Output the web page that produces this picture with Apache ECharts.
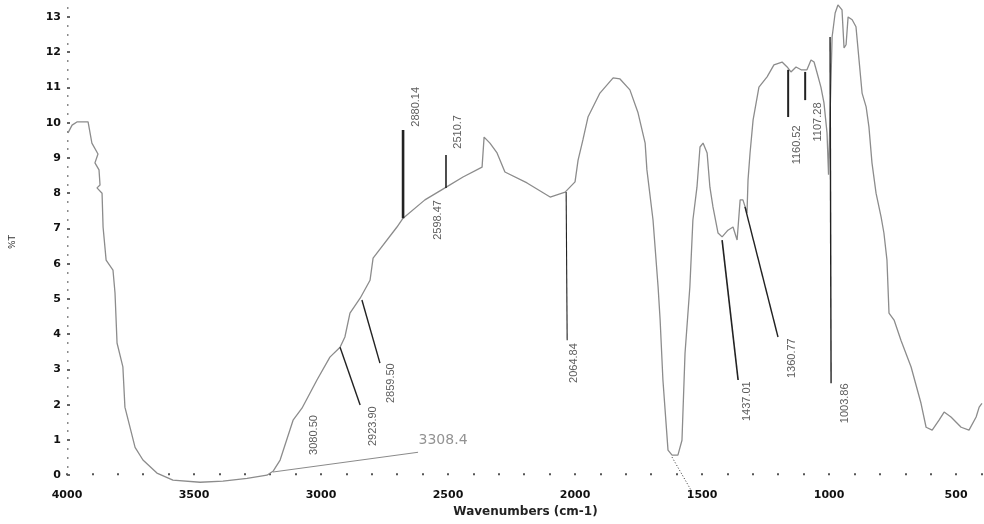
<!DOCTYPE html>
<html>
<head>
<meta charset="utf-8">
<script src="https://cdn.jsdelivr.net/npm/echarts@6/dist/echarts.min.js"></script>
<style>
  html, body { margin: 0; padding: 0; background: #fff; }
  #chart { width: 984px; height: 524px; }
</style>
</head>
<body>
<div id="chart"></div>
<script>
// IR spectrum: wavenumber (cm-1) against %T
const waveNumbers = [
  3996, 3980, 3961, 3917, 3902, 3878, 3890, 3874, 3870, 3882, 3862, 3858, 3846,
  3819, 3811, 3803, 3780, 3772, 3732, 3701, 3646, 3583, 3476, 3386, 3291, 3213,
  3189, 3161, 3110, 3075, 3016, 2965, 2925, 2906, 2886, 2846, 2807, 2795, 2701,
  2677, 2591, 2512, 2441, 2366, 2358, 2335, 2307, 2276, 2189, 2098, 2039, 2000,
  1988, 1969, 1949, 1902, 1850, 1823, 1784, 1752, 1724, 1717, 1693, 1673, 1665,
  1654, 1634, 1618, 1595, 1579, 1567, 1548, 1536, 1520, 1508, 1496, 1480, 1469,
  1457, 1437, 1421, 1398, 1378, 1362, 1350, 1339, 1323, 1319, 1311, 1299, 1276,
  1244, 1217, 1185, 1165, 1150, 1130, 1110, 1087, 1071, 1059, 1047, 1032, 1020,
  1008, 1002, 988, 976, 965, 949, 941, 933, 925, 909, 894, 882, 870, 854, 843,
  831, 815, 795, 784, 772, 764, 744, 717, 677, 638, 618, 594, 567, 547, 520,
  480, 449, 421, 409, 398
];
const transmittance = [
  9.71, 9.93, 10.02, 10.02, 9.42, 9.11, 8.86, 8.66, 8.23, 8.15, 8.00, 7.04, 6.10,
  5.82, 5.17, 3.75, 3.07, 1.93, 0.79, 0.43, 0.06, -0.14, -0.20, -0.17, -0.09, 0.00,
  0.11, 0.43, 1.56, 1.90, 2.70, 3.35, 3.63, 3.92, 4.60, 5.02, 5.53, 6.16, 7.04,
  7.29, 7.81, 8.15, 8.46, 8.74, 9.59, 9.42, 9.14, 8.60, 8.29, 7.89, 8.03, 8.32,
  8.94, 9.51, 10.16, 10.84, 11.27, 11.24, 10.93, 10.28, 9.42, 8.66, 7.24, 5.34, 4.40,
  2.70, 0.71, 0.57, 0.57, 0.99, 3.46, 5.34, 7.24, 8.17, 9.31, 9.42, 9.14, 8.17,
  7.61, 6.87, 6.76, 6.95, 7.04, 6.67, 7.81, 7.81, 7.44, 8.37, 9.14, 10.08, 11.01,
  11.30, 11.64, 11.72, 11.58, 11.44, 11.58, 11.50, 11.50, 11.78, 11.72, 11.41, 11.01, 10.56,
  9.71, 8.52, 12.43, 13.11, 13.34, 13.20, 12.12, 12.21, 13.00, 12.92, 12.72, 11.78, 10.84,
  10.45, 9.88, 8.86, 8.00, 7.32, 6.87, 6.10, 4.60, 4.40, 3.83, 3.07, 2.04, 1.36, 1.28, 1.56,
  1.79, 1.65, 1.36, 1.28, 1.65, 1.93, 2.04
];

// Tick values
const xLabelTicks = [4000, 3500, 3000, 2500, 2000, 1500, 1000, 500];
const yLabelTicks = [0, 1, 2, 3, 4, 5, 6, 7, 8, 9, 10, 11, 12, 13];

// Peak annotations: text, leader start/end and label anchor, all in [cm-1, %T]
const peakTexts = ['2880.14', '2510.7', '2598.47', '2064.84', '2923.90', '2859.50', '3080.50',
                   '1437.01', '1360.77', '1160.52', '1107.28', '1003.86'];
const peakFrom = [[2677, 7.29], [2508, 8.15], null, [2035, 8.03], [2925, 3.63], [2839, 4.97], null,
                  [1421, 6.67], [1331, 7.61], [1161, 11.50], [1094, 11.44], [996, 12.43]];
const peakTo = [[2677, 9.79], [2508, 9.08], null, [2031, 3.83], [2846, 1.99], [2768, 3.18], null,
                [1358, 2.70], [1201, 3.92], [1161, 10.16], [1094, 10.64], [992, 2.61]];
const peakLabelAt = [[2626, 10.45], [2461, 9.74], [2539, 7.24], [2004, 3.18], [2795, 1.39], [2724, 2.61],
                     [3028, 1.14], [1323, 2.10], [1146, 3.32], [1126, 9.37], [1043, 10.02], [937, 2.04]];

// Broad band callout
const bandText = '3308.4';
const bandFrom = [3189, 0.09];
const bandTo = [2618, 0.65];
const bandLabelAt = [2618, 0.99];

// Dotted leader below the 1600 band
const dotFrom = [1618, 0.51];
const dotTo = [1543, -0.43];

// Minor tick positions
const xMinorTicks = [];
for (let v = 400; v <= 4000; v += 100) xMinorTicks.push(v);
const yMinorTicks = [];
for (let v = 0; v <= 13.25; v += 0.25) if (v % 1 !== 0) yMinorTicks.push(v);

const spectrum = waveNumbers.map((w, i) => [w, transmittance[i]]);

const leaderWidths = [2.6, 1.6, 0, 1.1, 1.4, 1.4, 0, 1.6, 1.4, 2, 2, 1.4];

const series = [{
  type: 'line',
  data: spectrum,
  showSymbol: false,
  symbol: 'none',
  lineStyle: { color: '#8c8c8c', width: 1.3 },
  animation: false,
  z: 3
}];

peakFrom.forEach((p, i) => {
  if (!p) return;
  series.push({
    type: 'line',
    data: [p, peakTo[i]],
    symbol: 'none',
    lineStyle: { color: '#222', width: leaderWidths[i] },
    animation: false,
    z: 4
  });
});

series.push({
  type: 'line',
  data: [bandFrom, bandTo],
  symbol: 'none',
  lineStyle: { color: '#8a8a8a', width: 1 },
  animation: false,
  z: 4
});

series.push({
  type: 'line',
  data: [dotFrom, dotTo],
  symbol: 'none',
  clip: false,
  lineStyle: { color: '#333', width: 1, type: [1, 2] },
  animation: false,
  z: 4
});

series.push({
  type: 'scatter',
  data: peakLabelAt.map((p, i) => ({ value: p, name: peakTexts[i] })),
  symbolSize: 1,
  itemStyle: { color: 'transparent' },
  label: {
    show: true,
    position: 'inside',
    rotate: 90,
    formatter: (d) => d.name,
    fontFamily: 'Liberation Sans',
    fontSize: 11,
    color: '#333'
  },
  silent: true,
  animation: false,
  z: 5
});

series.push({
  type: 'scatter',
  data: [{ value: bandLabelAt, name: bandText }],
  symbolSize: 1,
  itemStyle: { color: 'transparent' },
  label: {
    show: true,
    position: 'right',
    distance: 0,
    formatter: (d) => d.name,
    fontFamily: 'DejaVu Sans',
    fontSize: 14,
    color: '#777'
  },
  silent: true,
  animation: false,
  z: 5
});

const chart = echarts.init(document.getElementById('chart'), null, { renderer: 'canvas' });
chart.setOption({
  backgroundColor: '#fff',
  animation: false,
  grid: { left: 67, right: 0, top: 0, bottom: 40, containLabel: false },
  xAxis: {
    type: 'value',
    inverse: true,
    min: 390,
    max: 4000,
    name: 'Wavenumbers (cm-1)',
    nameLocation: 'middle',
    nameGap: 22,
    nameTextStyle: { fontFamily: 'DejaVu Sans', fontWeight: 'bold', fontSize: 12, color: '#222' },
    axisLine: { show: false },
    splitLine: { show: false },
    axisTick: { show: true, inside: true, length: 2, customValues: xMinorTicks,
                lineStyle: { color: '#555', width: 2 } },
    axisLabel: { customValues: xLabelTicks, margin: 6, fontFamily: 'DejaVu Sans',
                 fontWeight: 'bold', fontSize: 11, color: '#111',
                 formatter: (v) => String(v) }
  },
  yAxis: [{
    type: 'value',
    min: -0.25,
    max: 13.48,
    name: '%T',
    nameLocation: 'middle',
    nameRotate: 90,
    nameGap: 50,
    nameTextStyle: { fontFamily: 'DejaVu Sans', fontSize: 9, color: '#333' },
    axisLine: { show: false },
    splitLine: { show: false },
    axisTick: { show: true, inside: true, length: 3, customValues: yLabelTicks,
                lineStyle: { color: '#333', width: 1.5 } },
    axisLabel: { customValues: yLabelTicks, margin: 6, fontFamily: 'DejaVu Sans',
                 fontWeight: 'bold', fontSize: 11, color: '#111',
                 formatter: (v) => String(v) }
  }, {
    type: 'value',
    min: -0.25,
    max: 13.48,
    position: 'left',
    axisLine: { show: false },
    splitLine: { show: false },
    axisLabel: { show: false },
    axisTick: { show: true, inside: true, length: 1.5, customValues: yMinorTicks,
                lineStyle: { color: '#666', width: 1.5 } }
  }],
  series: series
});
</script>
</body>
</html>
